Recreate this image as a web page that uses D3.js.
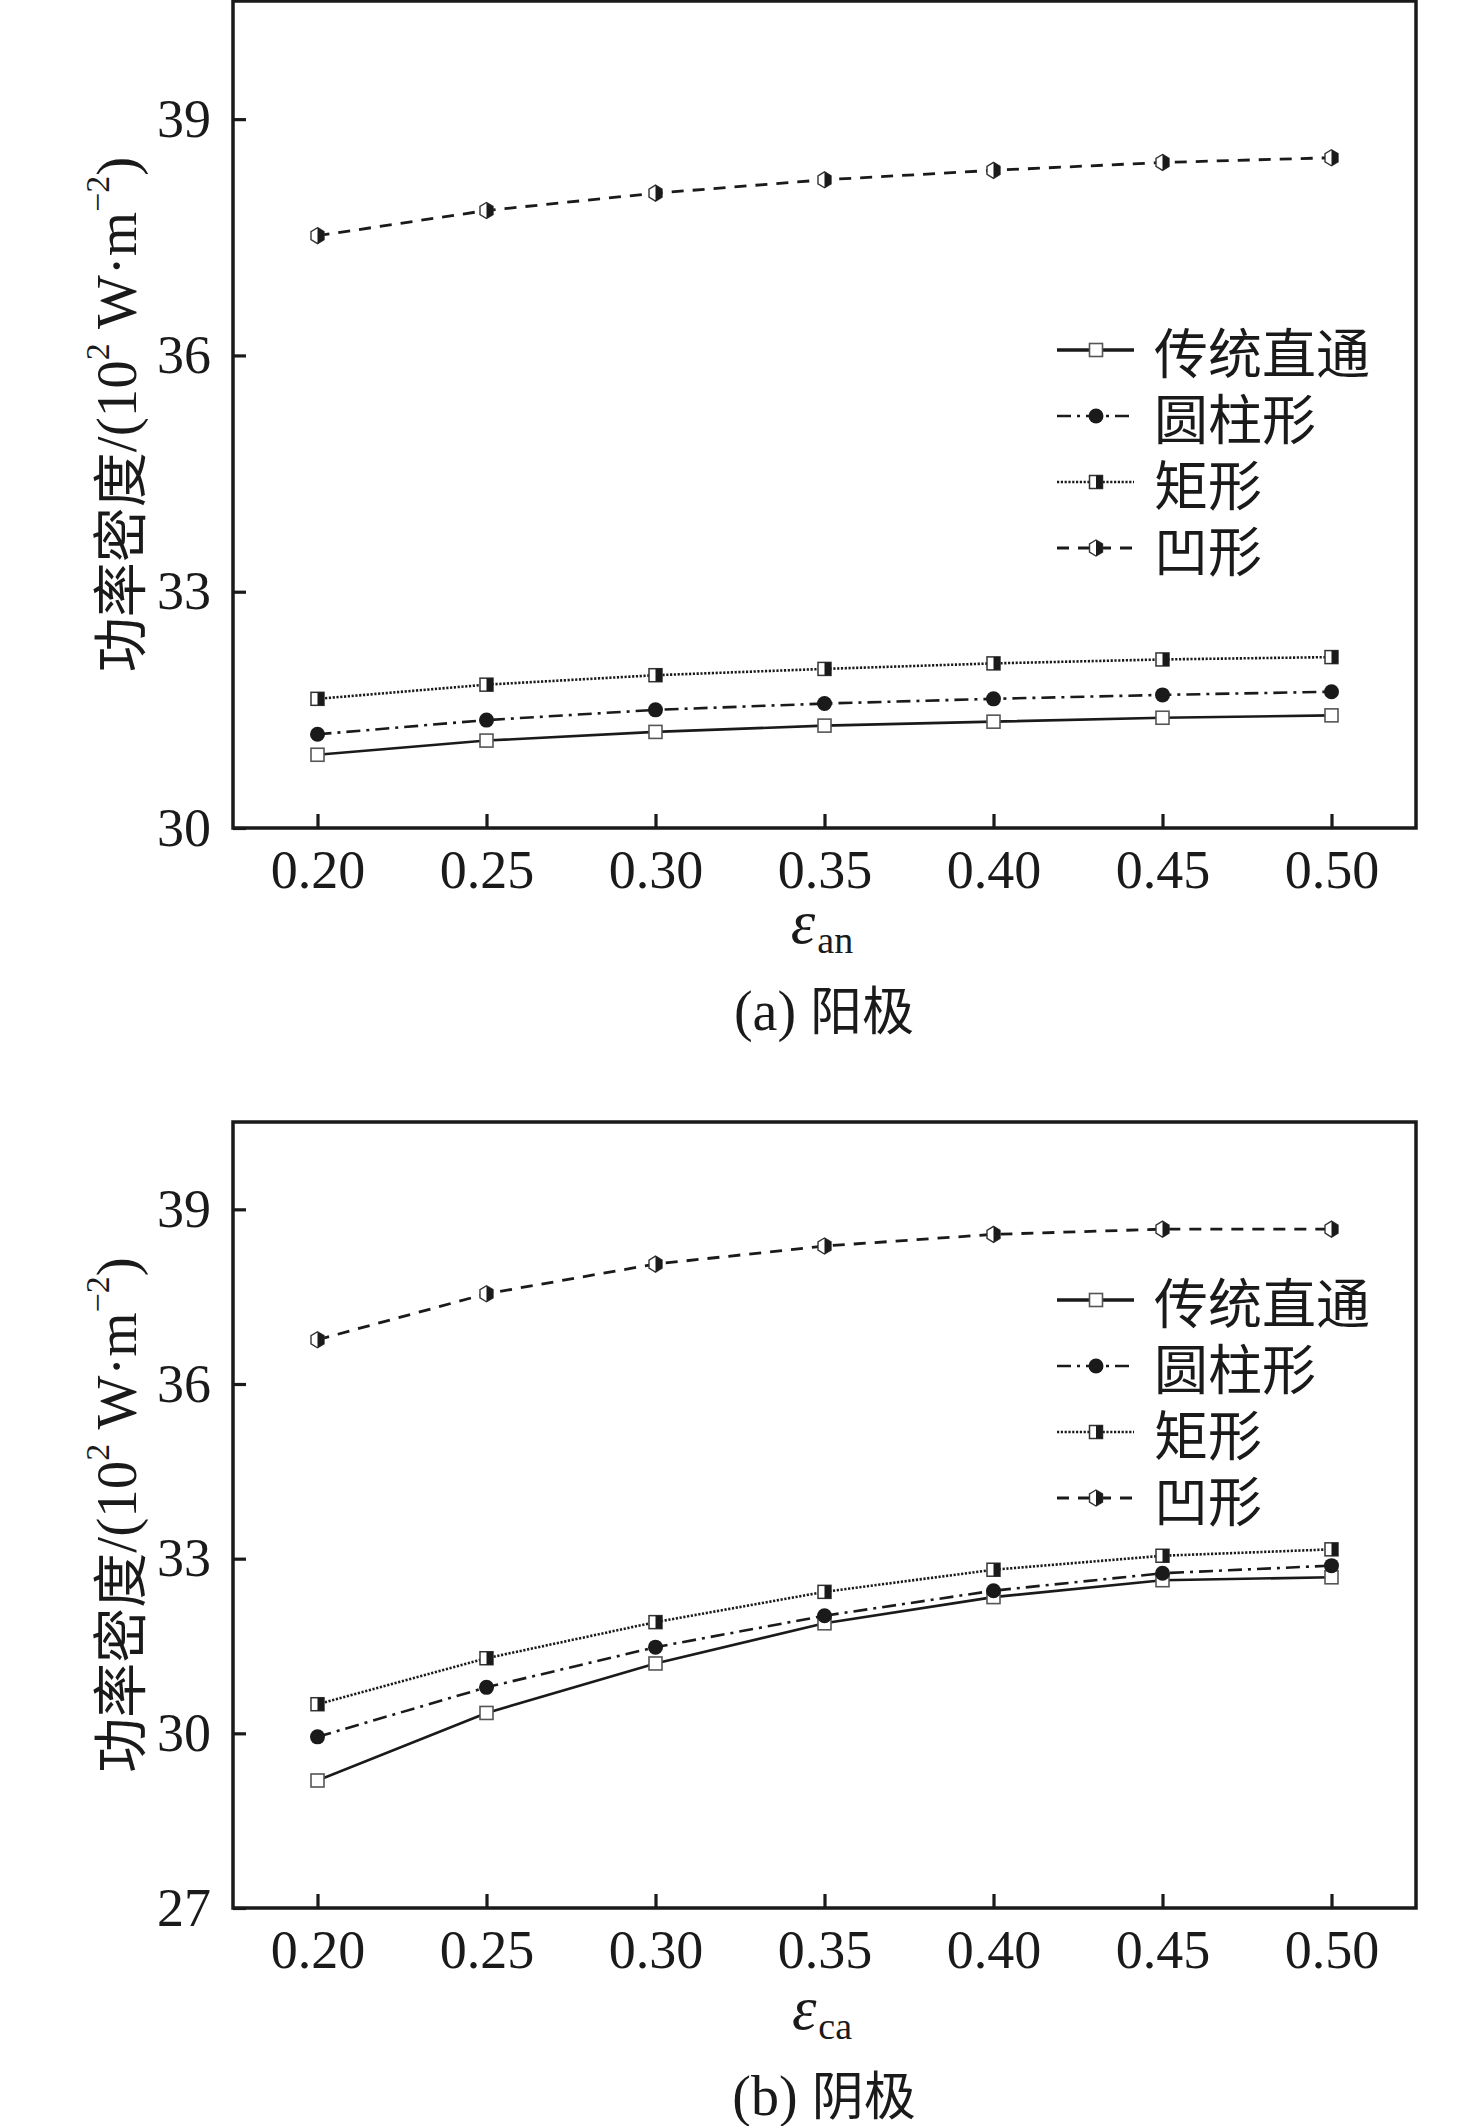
<!DOCTYPE html>
<html>
<head>
<meta charset="utf-8">
<script src="https://cdnjs.cloudflare.com/ajax/libs/d3/7.8.5/d3.min.js"></script>
<style>
    body { margin: 0; background: #fff; }
</style>
</head>
<body>
<div id="chart"></div>
<script>
/* * * * * * * * * * * * * * * *
*   Power density vs. porosity  *
* * * * * * * * * * * * * * * * */

// porosity (x axis)
const epsilon = [0.20, 0.25, 0.30, 0.35, 0.40, 0.45, 0.50];
const seriesNames = ["传统直通", "圆柱形", "矩形", "凹形"];

// (a) anode, 10^2 W/m^2
const anStraight = [30.93, 31.11, 31.22, 31.30, 31.35, 31.40, 31.43];
const anCylinder = [31.19, 31.37, 31.50, 31.58, 31.64, 31.69, 31.73];
const anRect     = [31.64, 31.82, 31.94, 32.02, 32.09, 32.14, 32.17];
const anConcave  = [37.52, 37.84, 38.06, 38.23, 38.35, 38.45, 38.51];

// (b) cathode
const caStraight = [29.19, 30.35, 31.20, 31.89, 32.34, 32.63, 32.68];
const caCylinder = [29.94, 30.79, 31.48, 32.02, 32.45, 32.75, 32.88];
const caRect     = [30.50, 31.29, 31.91, 32.43, 32.81, 33.05, 33.16];
const caConcave  = [36.76, 37.55, 38.06, 38.37, 38.57, 38.66, 38.66];

const yTicksA = [30, 33, 36, 39];
const yTicksB = [27, 30, 33, 36, 39];

const serif = "'Liberation Serif', 'DejaVu Serif', serif";
const cjk = "'Noto Sans CJK SC', sans-serif";

// line / marker look per series (same order as seriesNames)
const seriesStyle = [
    { dash: null,          width: 2.6, marker: "square" },
    { dash: "14,6,3,6",    width: 2.6, marker: "circle" },
    { dash: "2.2,1.6",     width: 2.6, marker: "halfSquare" },
    { dash: "12,9",        width: 2.8, marker: "halfHex" }
];

let svg = d3.select("#chart").append("svg")
    .attr("width", 1476)
    .attr("height", 2126);

svg.append("rect").attr("width", 1476).attr("height", 2126).attr("fill", "#fff");


function drawMarker(g, type, cx, cy) {
    let m = g.append("g").attr("transform", "translate(" + cx + "," + cy + ")");
    if (type === "square") {
        m.append("rect").attr("x", -6.5).attr("y", -6.5).attr("width", 13).attr("height", 13)
            .attr("fill", "#fff").attr("stroke", "#555").attr("stroke-width", 1.6);
    } else if (type === "circle") {
        m.append("circle").attr("r", 7.5).attr("fill", "#1a1a1a");
    } else if (type === "halfSquare") {
        m.append("rect").attr("x", -6.5).attr("y", -6.5).attr("width", 13).attr("height", 13)
            .attr("fill", "#fff").attr("stroke", "#333").attr("stroke-width", 1.5);
        m.append("rect").attr("x", 0).attr("y", -6.5).attr("width", 6.5).attr("height", 13)
            .attr("fill", "#1a1a1a");
    } else {
        // hexagon, left half open, right half filled
        let w = 6.5, h = 8;
        m.append("polygon")
            .attr("points", [[0, -h], [w, -h / 2], [w, h / 2], [0, h], [-w, h / 2], [-w, -h / 2]].join(" "))
            .attr("fill", "#fff").attr("stroke", "#333").attr("stroke-width", 1.4);
        m.append("polygon")
            .attr("points", [[0, -h], [w, -h / 2], [w, h / 2], [0, h]].join(" "))
            .attr("fill", "#1a1a1a");
    }
}


class LinePanel {
    constructor(_svg, _config) {
        this.svg = _svg;
        this.config = _config;

        this.initVis();
    }

    initVis() {
        let vis = this;
        let c = vis.config;

        vis.left = 233;
        vis.right = 1416;

        vis.x = d3.scaleLinear().domain([0.175, 0.525]).range([vis.left, vis.right]);
        vis.y = d3.scaleLinear().domain(c.yDomain).range([c.bottom, c.top]);

        vis.g = vis.svg.append("g");

        // axes with inward ticks
        let yAxis = d3.axisLeft(vis.y)
            .tickValues(c.yTicks)
            .tickFormat(d3.format("d"))
            .tickSizeInner(-13)
            .tickSizeOuter(0)
            .tickPadding(22);

        let xAxis = d3.axisBottom(vis.x)
            .tickValues(epsilon)
            .tickFormat(d3.format(".2f"))
            .tickSizeInner(-14)
            .tickSizeOuter(0)
            .tickPadding(22);

        let yG = vis.g.append("g").attr("transform", "translate(" + vis.left + ",0)").call(yAxis);
        let xG = vis.g.append("g").attr("transform", "translate(0," + c.bottom + ")").call(xAxis);

        [yG, xG].forEach(a => {
            a.select(".domain").remove();
            a.selectAll("line").attr("stroke", "#1a1a1a").attr("stroke-width", 3.2);
            a.selectAll("text")
                .attr("fill", "#1a1a1a")
                .style("font-family", serif)
                .style("font-size", "54px");
        });

        // frame
        vis.g.append("rect")
            .attr("x", vis.left)
            .attr("y", c.top)
            .attr("width", vis.right - vis.left)
            .attr("height", c.bottom - c.top)
            .attr("fill", "none")
            .attr("stroke", "#1a1a1a")
            .attr("stroke-width", 3.5);

        vis.updateVis();
    }

    updateVis() {
        let vis = this;
        let c = vis.config;

        let line = d3.line()
            .x((d, i) => vis.x(epsilon[i]))
            .y(d => vis.y(d));

        c.series.forEach((values, s) => {
            let st = seriesStyle[s];
            vis.g.append("path")
                .datum(values)
                .attr("d", line)
                .attr("fill", "none")
                .attr("stroke", "#1a1a1a")
                .attr("stroke-width", st.width)
                .attr("stroke-dasharray", st.dash);

            values.forEach((v, i) => drawMarker(vis.g, st.marker, vis.x(epsilon[i]), vis.y(v)));
        });

        // legend
        seriesNames.forEach((name, s) => {
            let st = seriesStyle[s];
            let ly = c.legendTop + s * 66;
            vis.g.append("line")
                .attr("x1", 1057).attr("x2", 1134)
                .attr("y1", ly).attr("y2", ly)
                .attr("stroke", "#1a1a1a")
                .attr("stroke-width", s === 0 ? 3.4 : st.width)
                .attr("stroke-dasharray", st.dash);
            drawMarker(vis.g, st.marker, 1096, ly);
            vis.g.append("text")
                .attr("x", 1154)
                .attr("y", ly)
                .attr("dominant-baseline", "central")
                .attr("fill", "#1a1a1a")
                .style("font-family", cjk)
                .style("font-size", "54px")
                .text(name);
        });

        // y axis title
        let cy = (c.top + c.bottom) / 2;
        let yt = vis.g.append("text")
            .attr("transform", "translate(116," + cy + ") rotate(-90)")
            .attr("text-anchor", "middle")
            .attr("dominant-baseline", "central")
            .attr("fill", "#1a1a1a")
            .style("font-family", serif)
            .style("font-size", "57px");
        yt.append("tspan").style("font-family", cjk).style("font-size", "55px").text("功率密度");
        yt.append("tspan").text("/(10");
        yt.append("tspan").attr("dy", -19).style("font-size", "34px").text("2");
        yt.append("tspan").attr("dy", 19).text(" W·m");
        yt.append("tspan").attr("dy", -19).style("font-size", "34px").text("−2");
        yt.append("tspan").attr("dy", 19).text(")");

        // x axis title
        let xt = vis.g.append("text")
            .attr("x", 822)
            .attr("y", c.bottom + c.titleGap)
            .attr("text-anchor", "middle")
            .attr("fill", "#1a1a1a")
            .style("font-family", serif);
        xt.append("tspan").style("font-style", "italic").style("font-size", "62px").text("ε");
        xt.append("tspan").attr("dx", 2).attr("dy", 10).style("font-size", "38px").text(c.sub);

        // caption
        let cap = vis.g.append("text")
            .attr("x", 824)
            .attr("y", c.bottom + c.captionGap)
            .attr("text-anchor", "middle")
            .attr("fill", "#1a1a1a")
            .style("font-family", serif)
            .style("font-size", "56px");
        cap.append("tspan").text(c.tag + " ");
        cap.append("tspan").style("font-family", cjk).style("font-size", "52px").text(c.caption);
    }
}

new LinePanel(svg, {
    top: 1, bottom: 828,
    yDomain: [30, 40.5], yTicks: yTicksA,
    series: [anStraight, anCylinder, anRect, anConcave],
    legendTop: 350,
    titleGap: 115, captionGap: 202,
    sub: "an", tag: "(a)", caption: "阳极"
});

new LinePanel(svg, {
    top: 1122, bottom: 1908,
    yDomain: [27, 40.5], yTicks: yTicksB,
    series: [caStraight, caCylinder, caRect, caConcave],
    legendTop: 1300,
    titleGap: 121, captionGap: 207,
    sub: "ca", tag: "(b)", caption: "阴极"
});
</script>
</body>
</html>
